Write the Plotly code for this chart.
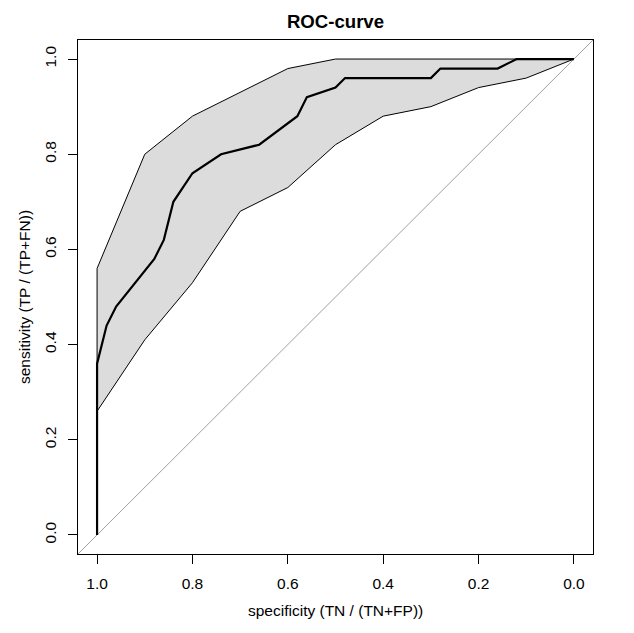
import plotly.graph_objects as go

# Mean ROC curve (specificity, sensitivity)
SPEC_MEAN = [1.0, 1.0, 0.98, 0.96, 0.88, 0.86, 0.84, 0.80, 0.74, 0.66, 0.58, 0.56,
             0.50, 0.48, 0.30, 0.28, 0.16, 0.12, 0.0]
SENS_MEAN = [0.0, 0.36, 0.44, 0.48, 0.58, 0.62, 0.70, 0.76, 0.80, 0.82, 0.88, 0.92,
             0.94, 0.96, 0.96, 0.98, 0.98, 1.0, 1.0]

# Confidence band
CI_SPEC = [1.0, 0.9, 0.8, 0.7, 0.6, 0.5, 0.4, 0.3, 0.2, 0.1, 0.0]
CI_UPPER = [0.56, 0.80, 0.88, 0.93, 0.98, 1.0, 1.0, 1.0, 1.0, 1.0, 1.0]
CI_LOWER = [0.26, 0.41, 0.53, 0.68, 0.73, 0.82, 0.88, 0.90, 0.94, 0.96, 1.0]

TICKS = [0.0, 0.2, 0.4, 0.6, 0.8, 1.0]
TICK_LABELS = ["0.0", "0.2", "0.4", "0.6", "0.8", "1.0"]

X_RANGE = [1.04, -0.04]
Y_RANGE = [-0.04, 1.04]

FONT = "Liberation Sans, Arial, sans-serif"

fig = go.Figure()

# band polygon
poly_x = CI_SPEC + CI_SPEC[::-1] + [CI_SPEC[0]]
poly_y = CI_UPPER + CI_LOWER[::-1] + [CI_UPPER[0]]
fig.add_trace(go.Scatter(x=poly_x, y=poly_y, mode="lines", fill="toself",
                         fillcolor="#DCDCDC", line=dict(color="black", width=1),
                         hoverinfo="skip"))

# diagonal reference line y = 1 - x
diag_x = X_RANGE
diag_y = [1 - v for v in diag_x]
fig.add_trace(go.Scatter(x=diag_x, y=diag_y, mode="lines",
                         line=dict(color="#A0A0A0", width=1), hoverinfo="skip"))

# mean curve
fig.add_trace(go.Scatter(x=SPEC_MEAN, y=SENS_MEAN, mode="lines",
                         line=dict(color="black", width=2.2)))

axis_common = dict(
    showgrid=False, zeroline=False, showline=True, mirror=True,
    linecolor="black", linewidth=1, ticks="outside", ticklen=9,
    tickwidth=1, tickcolor="black", tickvals=TICKS, ticktext=TICK_LABELS,
    tickfont=dict(family=FONT, size=15.5, color="black"),
)

fig.update_xaxes(range=X_RANGE, ticklabelstandoff=6, **axis_common)
fig.update_yaxes(range=Y_RANGE, tickangle=-90, ticklabelstandoff=6, **axis_common)

fig.update_layout(
    width=634, height=633,
    margin=dict(l=78, r=41, t=40, b=79),
    paper_bgcolor="white", plot_bgcolor="white",
    showlegend=False,
    title=dict(text="<b>ROC-curve</b>", x=0.5, xref="paper", xanchor="center",
               y=1 - 21.7 / 633, yanchor="middle",
               font=dict(family=FONT, size=18.6, color="black")),
    annotations=[
        dict(text="specificity (TN / (TN+FP))", xref="paper", yref="paper",
             x=0.5, y=0, yshift=-56, xanchor="center", yanchor="middle",
             showarrow=False, font=dict(family=FONT, size=15.5, color="black")),
        dict(text="sensitivity (TP / (TP+FN))", xref="paper", yref="paper",
             x=0, y=0.5, xshift=-54, textangle=-90, xanchor="center",
             yanchor="middle", showarrow=False,
             font=dict(family=FONT, size=15.5, color="black")),
    ],
)

fig.write_html("out.html")
